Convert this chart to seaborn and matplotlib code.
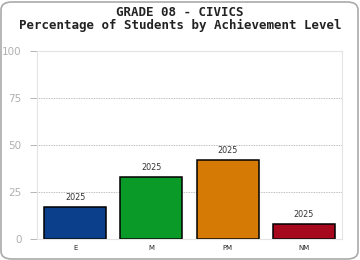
import matplotlib
matplotlib.use("Agg")
import matplotlib.pyplot as plt
import seaborn as sns
import pandas as pd
from matplotlib.patches import FancyBboxPatch

categories = ["E", "M", "PM", "NM"]
values = [17, 33, 42, 8]
bar_labels = ["2025", "2025", "2025", "2025"]
colors = ["#0b3f8c", "#0a9a28", "#d67a06", "#a6081e"]
yticks = [0, 25, 50, 75, 100]

sns.set_style("white")
plt.rcParams['font.family'] = ['DejaVu Sans']

df = pd.DataFrame({"level": categories, "pct": values})

fig = plt.figure(figsize=(3.6, 2.6), dpi=100)
ax = fig.add_axes([37/360, 1-239/260, 305/360, 188/260])

sns.barplot(data=df, x="level", y="pct", hue="level", palette=colors,
            legend=False, ax=ax, width=0.81, edgecolor="black", linewidth=1.1,
            saturation=1)

ax.set_ylim(0, 100)
ax.set_xlim(-0.5, 3.5)
ax.set_yticks(yticks)
ax.set_yticklabels([str(t) for t in yticks], color="#b0b0b0", fontsize=7.5)
ax.tick_params(axis="y", length=5, color="#aaaaaa", width=0.6, pad=6, left=True)
ax.tick_params(axis="x", length=0, labelsize=5, pad=4)
ax.set_xlabel("")
ax.set_ylabel("")
for t in [25, 50, 75]:
    ax.axhline(t, color="#aaaaaa", linestyle=(0, (1, 1)), linewidth=0.6, zorder=0)
for s in ax.spines.values():
    s.set_color("#e4e4e4")
    s.set_linewidth(0.8)

for p, lab in zip(ax.patches, bar_labels):
    ax.annotate(lab, (p.get_x() + p.get_width()/2, p.get_height()),
                xytext=(0, 3.5), textcoords="offset points", ha="center",
                va="bottom", fontsize=5.8, color="#333333")

fig.text(0.5, 1-13/260, "GRADE 08 - CIVICS", ha="center", va="center",
         fontsize=9, fontweight="bold", family="DejaVu Sans Mono", color="#222222")
fig.text(0.5, 1-25/260, "Percentage of Students by Achievement Level", ha="center",
         va="center", fontsize=9, fontweight="bold", family="DejaVu Sans Mono",
         color="#222222")

frame = FancyBboxPatch((1/360, 1/260), 357/360, 257/260,
                       boxstyle="round,pad=0,rounding_size=0.03",
                       transform=fig.transFigure, fill=False,
                       edgecolor="#aaaaaa", linewidth=1.2)
fig.patches.append(frame)

fig.savefig("out.png", dpi=100)
